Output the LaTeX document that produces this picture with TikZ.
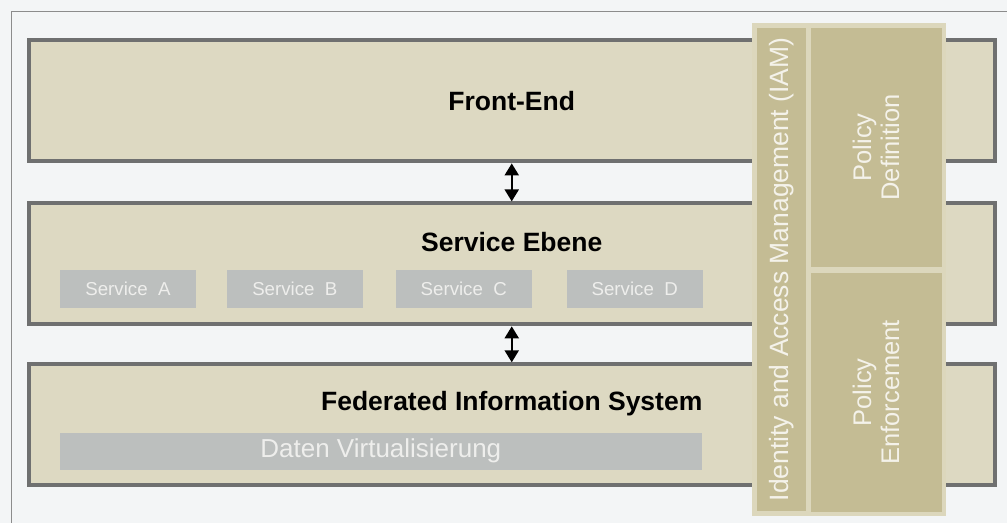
\documentclass[tikz,border=0pt]{standalone}
\usepackage{fontspec}
\setmainfont{Liberation Sans}
\usetikzlibrary{arrows.meta}
\definecolor{bgcol}{HTML}{F3F5F6}
\definecolor{framecol}{HTML}{8C8C8C}
\definecolor{layerfill}{HTML}{DDD9C2}
\definecolor{layerline}{HTML}{6F7070}
\definecolor{svcfill}{HTML}{BCBFBE}
\definecolor{svctext}{HTML}{EEEEEC}
\definecolor{iamfill}{HTML}{C4BC94}
\definecolor{iamedge}{HTML}{DCD7BC}
\definecolor{iamtext}{HTML}{F4F2EA}
\tikzset{
  layer/.style={draw=layerline, line width=4pt, fill=layerfill, minimum width=966pt, minimum height=121pt, inner sep=0pt},
  title/.style={font=\bfseries\fontsize{26.5}{30}\selectfont},
  svc/.style={fill=svcfill, text=svctext, minimum width=136pt, minimum height=38pt, inner sep=0pt, font=\fontsize{18.7}{22}\selectfont},
  iam/.style={fill=iamfill, text=iamtext, inner sep=0pt, rotate=90, align=center, font=\fontsize{25.5}{28}\selectfont},
  link/.style={{Triangle[width=14pt,length=12pt]}-{Triangle[width=14pt,length=12pt]}, line width=2.2pt}
}
\begin{document}
\begin{tikzpicture}[x=1pt,y=-1pt]
\fill[bgcol] (0,0) rectangle (1007,523);
\draw[framecol, line width=1pt] (12,523) -- (12,12) -- (1007,12);
% layers
\node[layer] (fe) at (512,101) {};
\node[layer] (se) at (512,264) {};
\node[layer] (fis) at (512,425) {};
\node[title] (fetext) at (fe) {Front-End};
\node[title] (setext) at (512,242) {Service Ebene};
\node[title] (fistext) at (512,404) {Federated Information System};
\foreach \s/\x in {A/128,B/295,C/464,D/635}
  \node[svc] (svc\s) at (\x,289) {Service~ \s};
\node[svc, minimum width=642pt, minimum height=37pt, font=\fontsize{26}{30}\selectfont] (daten) at (381,451.5) {Daten Virtualisierung};
\draw[link] (fe.south) -- (se.north);
\draw[link] (se.south) -- (fis.north);
% IAM column
\node[fill=iamedge, minimum width=194pt, minimum height=493pt, inner sep=0pt] (iamframe) at (849,269.5) {};
\node[iam, minimum width=483pt, minimum height=49pt, font=\fontsize{26.5}{30}\selectfont] (iam) at (782,269.5) {Identity and Access Management (IAM)};
\node[iam, minimum width=239pt, minimum height=131pt] (pdef) at (876.5,147.5) {Policy\\Definition};
\node[iam, minimum width=239pt, minimum height=131pt] (penf) at (876.5,392.5) {Policy\\Enforcement};
\end{tikzpicture}
\end{document}
